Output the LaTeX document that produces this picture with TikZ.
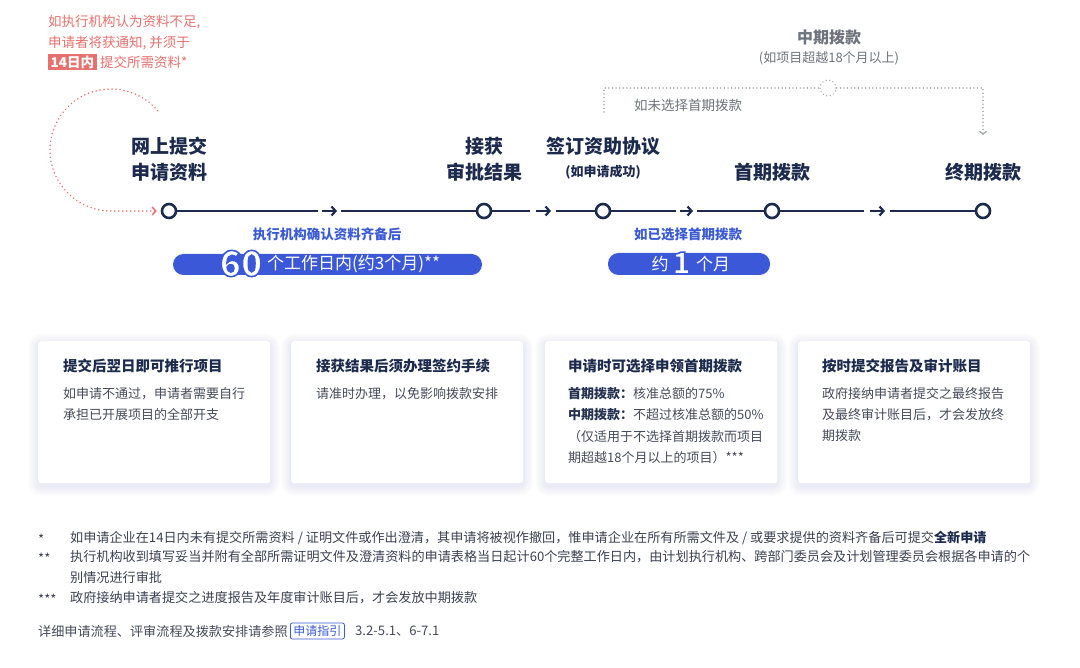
\documentclass[tikz,border=0pt]{standalone}
\usepackage{fontspec}
\setmainfont{Noto Sans CJK SC}
\usetikzlibrary{arrows.meta}
\definecolor{navy}{HTML}{1C2A4D}
\definecolor{redc}{HTML}{E8716E}
\definecolor{pillblue}{HTML}{3A58D8}
\definecolor{labblue}{HTML}{3B5BD6}
\definecolor{grayt}{HTML}{6E737D}
\definecolor{grayd}{HTML}{A3A7AE}
\definecolor{bodyc}{HTML}{454B5A}
\definecolor{footc}{HTML}{3A4152}
\definecolor{shadowc}{HTML}{8C9BDB}
\newcommand\fsz[1]{\fontsize{#1}{#1}\selectfont}
\newcommand\outlinetext[1]{\special{pdf:code 2 Tr 1.6 w 0.227 0.345 0.847 RG}#1\special{pdf:code 0 Tr}}
\tikzset{
  txt/.style={inner sep=0pt, anchor=west},
  ctxt/.style={inner sep=0pt},
  redtxt/.style={txt, text=redc, font=\fsz{13.5}},
  head/.style={ctxt, text=navy, font=\fsz{19}\bfseries},
  tl/.style={circle, draw=navy, line width=2.6pt, fill=white, minimum size=14pt, inner sep=0pt},
  tline/.style={draw=navy, line width=2.2pt},
  tarrow/.style={tline, -{Straight Barb[length=4pt,width=9pt]}},
  reddot/.style={draw=redc, line width=1.7pt, dash pattern=on 0.01pt off 4pt, line cap=round},
  graydot/.style={draw=grayd, line width=1.5pt, dash pattern=on 0.01pt off 3.6pt, line cap=round},
  bluelab/.style={ctxt, text=labblue, font=\fsz{13.5}\bfseries},
  pill/.style={fill=pillblue, rounded corners=10.5pt, inner sep=0pt},
  card/.style={fill=white, rounded corners=3pt, inner sep=0pt},
  ctitle/.style={txt, text=navy, font=\fsz{14.5}\bfseries},
  cbody/.style={txt, text=bodyc, font=\fsz{13}},
  foot/.style={txt, text=footc, font=\fsz{13.13}},
}
\begin{document}
\begin{tikzpicture}[x=1pt,y=-1pt]
\useasboundingbox[fill=white] (0,0) rectangle (1080,668);

% ---------- top-left red note ----------
\node[redtxt] (r1) at (48,22) {如执行机构认为资料不足,};
\node[redtxt] (r2) at (48,43) {申请者将获通知, 并须于};
\node[txt, fill=redc, text=white, font=\fsz{13.5}\bfseries, inner xsep=2.5pt, inner ysep=1.5pt] (r3a) at (48,62) {14日内};
\node[redtxt] (r3b) at (100,62) {提交所需资料*};

% ---------- middle payment (top) ----------
\node[ctxt, text=grayt, font=\fsz{16}\bfseries] (midt) at (829,37) {中期拨款};
\node[ctxt, text=grayt, font=\fsz{13}] (mids) at (829,58) {(如项目超越18个月以上)};
\node[ctxt, text=grayt, font=\fsz{13.5}] (nofirst) at (688,105) {如未选择首期拨款};

% ---------- headings ----------
\node[head, align=center, font=\fontsize{19}{26}\selectfont\bfseries] (h1) at (169,159) {网上提交\\申请资料};
\node[head, align=center, font=\fontsize{19}{26}\selectfont\bfseries] (h2) at (484,159) {接获\\审批结果};
\node[head] (h3) at (603,146) {签订资助协议};
\node[ctxt, text=navy, font=\fsz{13}\bfseries] (h3s) at (603,172) {(如申请成功)};
\node[head] (h4) at (772,172) {首期拨款};
\node[head] (h5) at (983,172) {终期拨款};

% ---------- timeline ----------
\node[tl] (n1) at (169,211) {};
\node[tl] (n2) at (484,211) {};
\node[tl] (n3) at (603,211) {};
\node[tl] (n4) at (772,211) {};
\node[tl] (n5) at (983,211) {};

\coordinate (a1) at (318,211); \coordinate (b1) at (322,211); \coordinate (c1) at (337,211); \coordinate (d1) at (341,211);
\coordinate (a2) at (530,211); \coordinate (b2) at (536,211); \coordinate (c2) at (551,211); \coordinate (d2) at (556,211);
\coordinate (a3) at (676,211); \coordinate (b3) at (680,211); \coordinate (c3) at (693,211); \coordinate (d3) at (697,211);
\coordinate (a4) at (864,211); \coordinate (b4) at (870,211); \coordinate (c4) at (885,211); \coordinate (d4) at (890,211);

\draw[tline] (n1) -- (a1); \draw[tarrow] (b1) -- (c1); \draw[tline] (d1) -- (n2);
\draw[tline] (n2) -- (a2); \draw[tarrow] (b2) -- (c2); \draw[tline] (d2) -- (n3);
\draw[tline] (n3) -- (a3); \draw[tarrow] (b3) -- (c3); \draw[tline] (d3) -- (n4);
\draw[tline] (n4) -- (a4); \draw[tarrow] (b4) -- (c4); \draw[tline] (d4) -- (n5);

% red dotted loop back into n1
\coordinate (loopstart) at (157.7,110.8);
\draw[reddot, -{Straight Barb[length=3.5pt,width=8pt,line width=1.5pt]}]
  (loopstart) arc[start angle=-40, end angle=-270, radius=61] -- ([xshift=-4pt]n1.west);

% gray dotted route over the top
\coordinate (gstart) at (604,112);
\coordinate (gend) at (983,135);
\node[circle, graydot, minimum size=16pt, inner sep=0pt] (gc) at (828,88) {};
\draw[graydot] (gstart) -- (604,88) -- (gc.west);
\draw[graydot, -{Straight Barb[length=3pt,width=7pt,line width=1.2pt]}] (gc.east) -- (983,88) -- (gend);

% ---------- duration labels and pills ----------
\node[bluelab] (l1) at (327,234) {执行机构确认资料齐备后};
\node[pill, minimum width=309pt, minimum height=21pt] (p1) at (327.5,264.5) {};
\node[ctxt, text=white, font=\fsz{35}\bfseries] (p1n) at (241,263.5) {\outlinetext{60}};
\node[txt, text=white, font=\fsz{17}] (p1t) at (267,264.5) {个工作日内(约3个月)**};

\node[bluelab] (l2) at (688,234) {如已选择首期拨款};
\node[pill, minimum width=162pt, minimum height=22pt] (p2) at (689,264) {};
\node[ctxt, text=white, font=\fsz{17}] (p2a) at (660,264) {约};
\node[ctxt, text=white, font=\fsz{30}\bfseries] (p2n) at (681.5,263) {\outlinetext{1}};
\node[txt, text=white, font=\fsz{17}] (p2b) at (696,264) {个月};

% ---------- cards ----------
\foreach \x/\n in {38/k1,291/k2,545/k3,798/k4} {
  \foreach \i in {1,...,10}
    \fill[shadowc, opacity=0.016, rounded corners=3+\i] (\x-\i,341-\i+3) rectangle (\x+232+\i,483+\i+3);
  \node[card, minimum width=232pt, minimum height=142pt, anchor=north west] (\n) at (\x,341) {};
}
\node[ctitle] (k1t) at (63,366) {提交后翌日即可推行项目};
\node[cbody] (k1a) at (63,394) {如申请不通过，申请者需要自行};
\node[cbody] (k1b) at (63,415) {承担已开展项目的全部开支};

\node[ctitle] (k2t) at (316,366) {接获结果后须办理签约手续};
\node[cbody] (k2a) at (316,394) {请准时办理，以免影响拨款安排};

\node[ctitle] (k3t) at (568,366) {申请时可选择申领首期拨款};
\node[cbody] (k3a) at (568,394) {{\bfseries\color{navy!80!bodyc}首期拨款：}核准总额的75\%};
\node[cbody] (k3b) at (568,415) {{\bfseries\color{navy!80!bodyc}中期拨款：}不超过核准总额的50\%};
\node[cbody] (k3c) at (568,437) {（仅适用于不选择首期拨款而项目};
\node[cbody] (k3d) at (568,458) {期超越18个月以上的项目）***};

\node[ctitle] (k4t) at (822,366) {按时提交报告及审计账目};
\node[cbody] (k4a) at (822,394) {政府接纳申请者提交之最终报告};
\node[cbody] (k4b) at (822,415) {及最终审计账目后，才会发放终};
\node[cbody] (k4c) at (822,436) {期拨款};

% ---------- footnotes ----------
\node[foot] (f1s) at (38,539) {*};
\node[foot] (f1) at (70,538) {如申请企业在14日内未有提交所需资料 / 证明文件或作出澄清，其申请将被视作撤回，惟申请企业在所有所需文件及 / 或要求提供的资料齐备后可提交{\bfseries\color{navy}全新申请}};
\node[foot] (f2s) at (38,558) {**};
\node[foot] (f2) at (70,557) {执行机构收到填写妥当并附有全部所需证明文件及澄清资料的申请表格当日起计60个完整工作日内，由计划执行机构、跨部门委员会及计划管理委员会根据各申请的个};
\node[foot] (f2b) at (70,577) {别情况进行审批};
\node[foot] (f3s) at (38,599) {***};
\node[foot] (f3) at (70,598) {政府接纳申请者提交之进度报告及年度审计账目后，才会发放中期拨款};

\node[foot, text=bodyc] (ref1) at (38,631) {详细申请流程、评审流程及拨款安排请参照};
\node[txt, draw=labblue, line width=0.8pt, rounded corners=2pt, text=labblue, font=\fsz{12}, inner xsep=3pt, inner ysep=2.5pt] (ref2) at (290,631) {申请指引};
\node[foot, text=bodyc] (ref3) at (355,631) {3.2-5.1、6-7.1};
\end{tikzpicture}
\end{document}
